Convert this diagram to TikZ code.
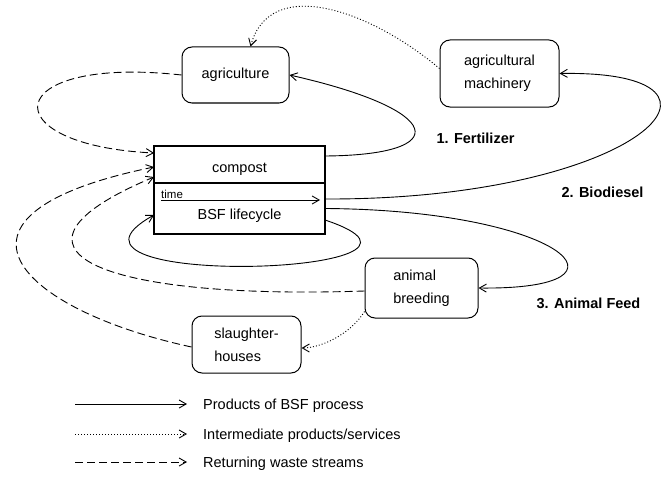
\documentclass[tikz,border=0pt]{standalone}
\usepackage{fontspec}
\setmainfont{Liberation Sans}
\usepackage{tikz}
\usetikzlibrary{arrows.meta, positioning}
\newcommand\stagewidth{171pt}
\newcommand\textsize{\fontsize{14.5}{23}\selectfont}
\tikzstyle{sector} = [rectangle, rounded corners=10pt, draw=black, line width=1pt, align=left, font=\textsize]
\tikzstyle{stage} = [rectangle, minimum width=\stagewidth, text depth=0pt, draw=black, line width=1.2pt, outer sep=0pt, font=\textsize]
\tikzstyle{product} = [font=\bfseries\textsize]
\tikzstyle{legend} = [anchor=base west, inner sep=0pt, font=\textsize]
\tikzstyle{arrow} = [line width=0.9pt, -{Straight Barb[length=7pt,width=8pt]}]
\tikzstyle{service} = [arrow, dash pattern=on 1pt off 2pt]
\tikzstyle{waste} = [arrow, dash pattern=on 8pt off 4pt]

\begin{document}
\begin{tikzpicture}[x=1pt, y=-1pt]
            \useasboundingbox (0,0) rectangle (668,476);

            \node (agriculture) [sector, minimum width=107pt, minimum height=56pt] at (235.5,75) {agriculture};
            \node (machinery) [sector, minimum width=119pt, minimum height=67pt] at (499.5,73.5) {agricultural\\machinery};
            \node (compost) [stage, minimum height=37pt, text height=15pt] at (239.5,164.5) {compost};
            \node (lifecycle) [stage, minimum height=51pt, text height=21pt, below=0pt of compost] {BSF lifecycle};
            \node (time) [anchor=base west, inner sep=0pt, font=\fontsize{11.5}{13}\selectfont] at ([shift={(7pt,10.5pt)}]lifecycle.west) {time};
            \node (breeding) [sector, minimum width=113pt, minimum height=60pt] at (421.5,288) {animal\\breeding};
            \node (slaughter) [sector, minimum width=109pt, minimum height=57pt] at (246.5,344.5) {slaughter-\\houses};

            \node (fertilizer) [product] at (475.5,138) {1. Fertilizer};
            \node (biodiesel) [product] at (602.5,192) {2. Biodiesel};
            \node (feed) [product] at (588.5,303) {3. Animal Feed};

            \node (legproducts) [legend] at (203,409) {Products of BSF process};
            \node (legservices) [legend] at (203,439) {Intermediate products/services};
            \node (legwaste) [legend] at (203,467) {Returning waste streams};

            \draw [arrow] ([shift={(7pt,8.5pt)}]lifecycle.west) -- ([shift={(-5pt,8.5pt)}]lifecycle.east);
            \draw [arrow] ([yshift=8.5pt]compost.east) .. controls (455,155) and (445,110) .. (agriculture.east);
            \draw [arrow] ([yshift=9.5pt]lifecycle.east) .. controls (640,200) and (765,70) .. (machinery.east);
            \draw [arrow] (lifecycle.east) .. controls (560,210) and (650,290) .. (breeding.east);
            \draw [arrow] ([yshift=-11.5pt]lifecycle.east) .. controls (490,275) and (20,290) .. ([yshift=-6.5pt]lifecycle.west);
            \draw [service] ([yshift=5pt]machinery.west) .. controls (370,10) and (270,-25) .. ([xshift=15pt]agriculture.north);
            \draw [service] ([yshift=7pt]breeding.south west) .. controls (350,335) and (320,348) .. ([yshift=-3.5pt]slaughter.east);
            \draw [waste] (agriculture.west) .. controls (0,55) and (-10,145) .. ([yshift=11.5pt]compost.west);
            \draw [waste] ([yshift=-3pt]breeding.west) .. controls (100,300) and (-20,250) .. ([yshift=-12.5pt]compost.west);
            \draw [waste] ([yshift=-2.5pt]slaughter.west) .. controls (20,310) and (-80,215) .. ([yshift=-2.5pt]compost.west);

            \draw [arrow] ([shift={(-128pt,5pt)}]legproducts.base west) -- ([shift={(-16pt,5pt)}]legproducts.base west);
            \draw [service] ([shift={(-128pt,5pt)}]legservices.base west) -- ([shift={(-16pt,5pt)}]legservices.base west);
            \draw [waste] ([shift={(-128pt,5pt)}]legwaste.base west) -- ([shift={(-16pt,5pt)}]legwaste.base west);

        \end{tikzpicture}
\end{document}
